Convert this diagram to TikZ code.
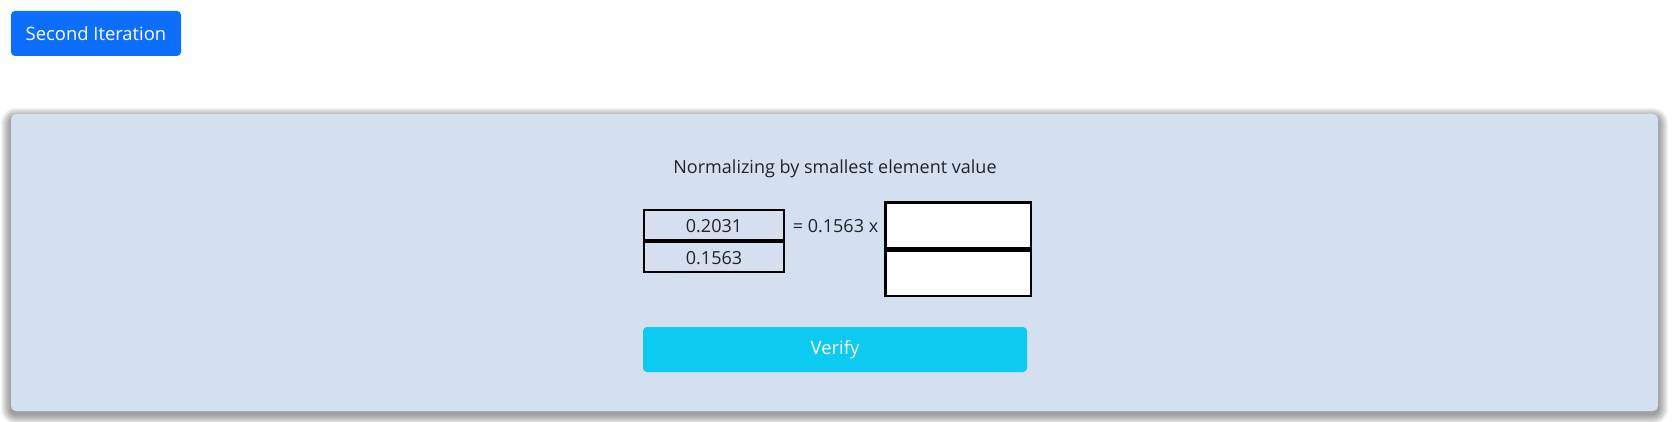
\documentclass[tikz,border=0pt]{standalone}
\usepackage{fontspec}
\setmainfont{Open Sans}
\definecolor{btnblue}{HTML}{0D6EFD}
\definecolor{panelbg}{HTML}{D4DFF0}
\definecolor{btncyan}{HTML}{0DCAF0}
\definecolor{textdark}{HTML}{212529}
\tikzset{
  panel/.style={fill=panelbg, rounded corners=5pt},
  shadowlayer/.style={fill=black, fill opacity=0.045},
  btn/.style={rounded corners=4pt},
  lbl/.style={text=textdark, font=\fontsize{18}{21}\selectfont, inner sep=0pt},
  btntext/.style={text=white, font=\fontsize{18.4}{21}\selectfont, inner sep=0pt},
  cellbox/.style={draw=black, line width=2pt},
  inputbox/.style={draw=black, line width=2.5pt, fill=white},
}
\begin{document}
\begin{tikzpicture}[x=1pt,y=-1pt]
\useasboundingbox[fill=white] (0,0) rectangle (1672,422);
% top button
\fill[btnblue, btn] (11,11) rectangle (181,56);
\node[btntext] (btnA) at (96,33.5) {Second Iteration};
% panel shadow
\foreach \i in {1,...,10}{
  \fill[shadowlayer, rounded corners={5pt+\i pt}] ({11-\i},{118-\i}) rectangle ({1658+\i},{414+\i});
}
% panel
\path[panel] (11,114) rectangle (1658,411);
\node[lbl, anchor=base] (title) at (835,174) {Normalizing by smallest element value};
% left vector
\draw[cellbox] (644,210) rectangle (784,240);
\draw[cellbox] (644,242) rectangle (784,272);
\node[lbl] (a1) at (714,226) {0.2031};
\node[lbl] (a2) at (714,258) {0.1563};
\node[lbl] (eq) at (835.5,226) {= 0.1563 x};
% right input vector
\draw[inputbox] (885.25,202.25) rectangle (1030.75,247.75);
\draw[inputbox] (885.25,250.25) rectangle (1030.75,295.75);
% verify
\fill[btncyan, btn] (643,327) rectangle (1027,372);
\node[btntext] (verify) at (835,349.5) {Verify};
\end{tikzpicture}
\end{document}
